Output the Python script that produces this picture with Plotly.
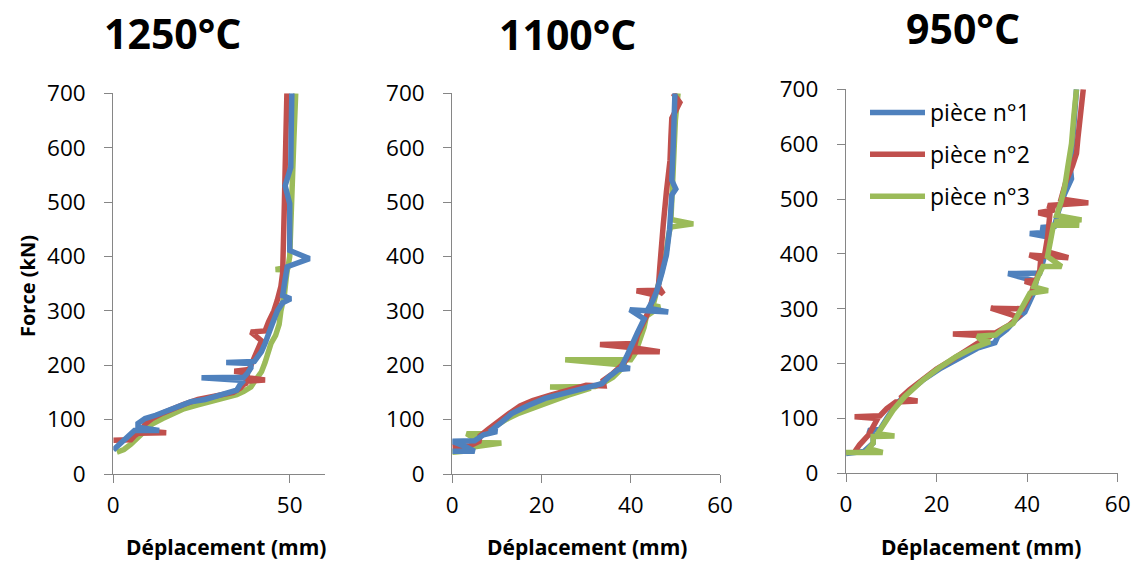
import plotly.graph_objects as go

# ---------------- data (Force kN vs Déplacement mm) ----------------
# Panel 1 : 1250°C
p1_blue_x = [0, 2, 4, 6, 13, 7, 7, 9, 12, 15, 17, 20, 22, 26, 29, 32, 35, 36, 37, 25, 37, 38, 39, 39, 32, 40, 41, 42, 43, 43.7, 45, 46.5, 48, 50.3, 48, 48.5, 49, 49.3, 55.6, 50, 50, 50, 48.7, 50.3, 50.4, 50.6]
p1_blue_y = [44, 55, 68, 80, 80, 86, 93, 102, 108, 115, 122, 128, 133, 137, 142, 147, 154, 165, 172, 177, 178, 185, 195, 203, 205, 207, 215, 225, 240, 255, 275, 300, 315, 322, 328, 350, 370, 381, 396, 411, 450, 497, 530, 564, 620, 700]
p1_red_x = [0, 5, 6, 7, 15, 8, 9, 11, 14, 17, 20, 24, 27, 31, 34, 36, 37, 38, 37, 43, 38, 38, 34.3, 38.5, 39, 40, 41, 42, 39, 43, 44, 45.5, 46.5, 47.5, 48, 48.2, 48.4, 48.5, 48.7, 48.9, 49.2]
p1_red_y = [62, 63, 70, 75, 76, 80, 92, 102, 112, 121, 128, 137, 141, 145, 150, 158, 165, 168, 170, 173, 177, 185, 189, 192, 200, 215, 230, 245, 261, 263, 280, 300, 320, 345, 370, 400, 450, 500, 560, 620, 700]
p1_green_x = [1, 3, 5, 7, 9, 11, 14, 17, 20, 24, 28, 32, 35, 37, 39, 40, 41, 42, 43, 44, 44.7, 46, 47, 47.5, 48.5, 49, 49.3, 46, 49.5, 50, 50.2, 50.5, 51, 51.2, 51.7]
p1_green_y = [40, 45, 55, 68, 82, 92, 102, 112, 120, 127, 133, 140, 146, 152, 160, 170, 180, 188, 205, 225, 240, 255, 275, 300, 330, 360, 375, 376, 380, 400, 450, 500, 560, 620, 700]

# Panel 2 : 1100°C
p2_blue_x = [0, 5, 3, 0, 5, 7, 10, 9, 11, 13.3, 17, 20.8, 24, 28.2, 31, 33.5, 35, 37.2, 39.8, 38, 39, 40.2, 41.5, 43, 39.8, 48.4, 44, 45, 45.8, 47, 48, 48.7, 49.2, 50.1, 49.2, 49.5, 49.8, 49.9]
p2_blue_y = [42, 42, 50, 60, 61, 72, 78, 82, 95, 111, 126, 139, 146, 154, 160, 166, 178, 192, 194, 198, 215, 238, 260, 285, 302, 298, 305, 320, 336, 370, 403, 450, 513, 524, 540, 600, 650, 700]
p2_red_x = [0, 4, 6, 6.2, 8, 10, 12.5, 15.2, 18, 22, 26.4, 30, 34, 33.8, 36, 38, 39.5, 40, 46.5, 40.5, 33.1, 41, 41.5, 42.5, 43.5, 44.5, 45, 41.3, 46, 47.3, 46.2, 46.5, 46.8, 47.3, 48, 48.8, 49, 49.2, 51, 49.5]
p2_red_y = [50, 52, 60, 70, 82, 95, 110, 125, 135, 145, 155, 163, 162, 172, 185, 200, 215, 225, 225, 232, 238, 240, 255, 270, 290, 310, 330, 337, 338, 331, 345, 380, 420, 460, 520, 577, 620, 654, 683, 700]
p2_green_x = [0, 3, 5, 11, 5, 5, 3.2, 7, 9, 12, 15, 18, 22, 26, 29, 31, 21.9, 32, 34, 36, 37.5, 39, 25.3, 40, 41, 42, 43, 43.5, 46.5, 45, 46, 47, 47.8, 48.5, 48.9, 54, 49, 49.3, 49.6, 50, 50.6]
p2_green_y = [40, 42, 50, 57, 58, 65, 74, 74, 85, 100, 112, 122, 133, 145, 152, 158, 160, 161, 168, 178, 190, 200, 210, 210, 222, 245, 270, 290, 307, 310, 340, 370, 400, 440, 454, 460, 468, 520, 600, 650, 700]

# Panel 3 : 950°C
p3_blue_x = [0, 4, 6, 6, 4.9, 7.5, 9, 11, 14, 17, 21, 25, 29, 32.9, 33.5, 35.5, 37.5, 39.5, 40.5, 41.5, 42, 35.8, 42.8, 43.5, 44.3, 45, 40.6, 45.5, 43, 46, 47, 48.3, 49.8, 49.5, 50, 50.5, 50.9]
p3_blue_y = [36, 40, 55, 70, 78, 80, 100, 125, 150, 170, 192, 210, 228, 238, 249, 262, 280, 294, 310, 330, 350, 364, 365, 385, 410, 430, 437, 440, 448, 450, 480, 510, 537, 560, 600, 650, 700]
p3_red_x = [2, 3, 5, 6, 7, 1.9, 7.5, 9, 11, 15.8, 12, 14, 17, 20, 23, 26, 29, 32, 23.6, 33, 36, 38, 32, 39, 40, 41, 41.5, 39.5, 42, 42.8, 43, 40.5, 49.1, 44, 44.5, 45, 45, 42.5, 46, 44.6, 53.5, 47.5, 48.5, 50, 50.9, 51.2, 51.8, 52.4]
p3_red_y = [40, 52, 70, 85, 100, 103, 105, 118, 130, 132, 137, 152, 172, 190, 205, 222, 237, 250, 254, 256, 270, 285, 301, 300, 315, 330, 345, 350, 352, 370, 390, 398, 393, 405, 430, 455, 470, 475, 480, 488, 493, 500, 530, 560, 583, 610, 650, 700]
p3_green_x = [0, 8.1, 5, 6, 6, 10.7, 7, 8.5, 10.4, 13, 17, 20.5, 24.4, 28, 31.8, 30, 29, 33, 35, 36.9, 38.5, 39.9, 40.6, 44.6, 41.5, 42.5, 43.5, 47.6, 44.5, 45.3, 45.8, 51.5, 46, 52, 46.5, 47.5, 48.3, 49, 49.8, 50.3, 50.9]
p3_green_y = [38, 38, 45, 55, 67, 68, 72, 90, 115, 140, 170, 192, 213, 228, 240, 242, 250, 252, 265, 273, 295, 316, 328, 333, 340, 360, 377, 377, 395, 430, 452, 452, 458, 462, 470, 495, 522, 560, 601, 650, 700]

series_names = ["pièce n°1", "pièce n°2", "pièce n°3"]
temperatures = ["1250°C", "1100°C", "950°C"]
x_tick_step = [50, 20, 20]
y_ticks = [0, 100, 200, 300, 400, 500, 600, 700]

BLUE, RED, GREEN = "#4F81BD", "#C0504D", "#9BBB59"
FONT = "Open Sans"
AXC = "#868686"
LW = 5.5

fig = go.Figure()

def add(x, y, color, idx, xa, ya, show):
    fig.add_trace(go.Scatter(x=x, y=y, mode="lines", name=series_names[idx],
                             line=dict(color=color, width=LW),
                             xaxis=xa, yaxis=ya, showlegend=show,
                             legendgroup=series_names[idx], legendrank=idx + 1,
                             hoverinfo="x+y"))

# panel 1 / 2: green, red, blue (blue on top)
add(p1_green_x, p1_green_y, GREEN, 2, "x", "y", False)
add(p1_red_x, p1_red_y, RED, 1, "x", "y", False)
add(p1_blue_x, p1_blue_y, BLUE, 0, "x", "y", False)
add(p2_green_x, p2_green_y, GREEN, 2, "x2", "y2", False)
add(p2_red_x, p2_red_y, RED, 1, "x2", "y2", False)
add(p2_blue_x, p2_blue_y, BLUE, 0, "x2", "y2", False)
# panel 3: blue, red, green (green on top)
add(p3_blue_x, p3_blue_y, BLUE, 0, "x3", "y3", True)
add(p3_red_x, p3_red_y, RED, 1, "x3", "y3", True)
add(p3_green_x, p3_green_y, GREEN, 2, "x3", "y3", True)

W, H = 1137, 562
def px(v): return v / W
def py(v): return 1 - v / H

tickfont = dict(family=FONT, size=22.5, color="#000000")

def xaxis(dom, dt, anchor):
    return dict(domain=dom, range=[0, 60], dtick=dt, tick0=0, anchor=anchor,
                showline=True, linecolor=AXC, linewidth=1.3, ticks="outside",
                ticklen=8, tickcolor=AXC, tickwidth=1.3, showgrid=False,
                zeroline=False, tickfont=tickfont, ticklabelstandoff=3,
                automargin=False, fixedrange=True)

def yaxis(dom, anchor):
    return dict(domain=dom, range=[0, 700], tickvals=y_ticks, anchor=anchor,
                showline=True, linecolor=AXC, linewidth=1.3, ticks="outside",
                ticklen=8, tickcolor=AXC, tickwidth=1.3, showgrid=False,
                zeroline=False, tickfont=tickfont, ticklabelstandoff=14,
                automargin=False, fixedrange=True)

yd12 = [py(474), py(93.3)]
yd3 = [py(473.3), py(89.3)]

fig.update_layout(
    width=W, height=H, margin=dict(l=0, r=0, t=0, b=0, pad=0, autoexpand=False),
    paper_bgcolor="white", plot_bgcolor="white",
    font=dict(family=FONT, color="#000000"),
    xaxis=xaxis([px(113.3), px(325)], x_tick_step[0], "y"),
    yaxis=yaxis(yd12, "x"),
    xaxis2=xaxis([px(452.3), px(720)], x_tick_step[1], "y2"),
    yaxis2=yaxis(yd12, "x2"),
    xaxis3=xaxis([px(846), px(1117.7)], x_tick_step[2], "y3"),
    yaxis3=yaxis(yd3, "x3"),
    showlegend=True,
    legend=dict(x=px(865), y=py(91), xanchor="left", yanchor="top",
                font=dict(family=FONT, size=23, color="#000000"),
                bgcolor="rgba(0,0,0,0)", tracegroupgap=9, itemwidth=55,
                traceorder="grouped"),
)

title_pos = [(172, 33), (567, 34), (963, 28)]
for t, (cx, cy) in zip(temperatures, title_pos):
    fig.add_annotation(text="<b>%s</b>" % t, x=px(cx), y=py(cy), xref="paper",
                       yref="paper", showarrow=False, xanchor="center",
                       yanchor="middle",
                       font=dict(family=FONT, size=41, color="#000000"))

for cx in [226, 587, 981]:
    fig.add_annotation(text="<b>Déplacement (mm)</b>", x=px(cx), y=py(547),
                       xref="paper", yref="paper", showarrow=False,
                       xanchor="center", yanchor="middle",
                       font=dict(family=FONT, size=21, color="#000000"))

fig.add_annotation(text="<b>Force (kN)</b>", x=px(27), y=py(286), xref="paper",
                   yref="paper", showarrow=False, textangle=-90,
                   xanchor="center", yanchor="middle",
                   font=dict(family=FONT, size=20, color="#000000"))

fig.write_html("out.html", config={"displayModeBar": False},
               post_script="document.body.style.margin='0';document.body.style.padding='0';")
